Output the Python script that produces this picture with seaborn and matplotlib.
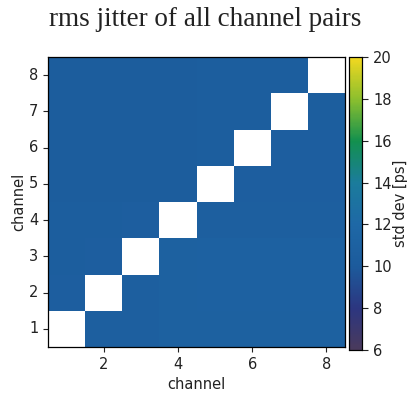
import numpy as np
import pandas as pd
import matplotlib
matplotlib.use("Agg")
import matplotlib.pyplot as plt
from matplotlib.colors import LinearSegmentedColormap
import seaborn as sns

channels = [1, 2, 3, 4, 5, 6, 7, 8]
# rows: channel on y axis (1..8), cols: channel on x axis (1..8); diagonal is empty
row_1 = [np.nan, 10.6, 10.7, 10.9, 10.9, 10.9, 10.9, 10.9]
row_2 = [10.5, np.nan, 10.6, 10.9, 11.0, 11.0, 11.0, 11.0]
row_3 = [10.4, 10.5, np.nan, 10.9, 11.0, 11.0, 11.0, 11.0]
row_4 = [10.4, 10.4, 10.5, np.nan, 10.6, 10.6, 10.6, 10.6]
row_5 = [10.3, 10.3, 10.3, 10.3, np.nan, 10.5, 10.5, 10.5]
row_6 = [10.3, 10.3, 10.3, 10.3, 10.4, np.nan, 10.5, 10.5]
row_7 = [10.3, 10.3, 10.3, 10.3, 10.4, 10.4, np.nan, 10.4]
row_8 = [10.3, 10.3, 10.3, 10.3, 10.4, 10.4, 10.4, np.nan]

jitter = pd.DataFrame([row_1, row_2, row_3, row_4, row_5, row_6, row_7, row_8],
                      index=channels, columns=channels)
jitter = jitter.iloc[::-1]  # channel 1 at the bottom

# viridis-like colours as they appear in the printed figure
cmap = LinearSegmentedColormap.from_list("printed_viridis", [
    "#4a3a5c", "#2c3680", "#1c5b9c", "#1e68a6", "#1b7c9c",
    "#13904e", "#8cbf2e", "#f2d820"])

fig = plt.figure(figsize=(4.11, 3.96), dpi=100)
ax = fig.add_axes([48 / 411, 1 - 347 / 396, 297 / 411, 290 / 396])
cax = fig.add_axes([349 / 411, 1 - 350 / 396, 13 / 411, 293 / 396])

sns.heatmap(jitter, ax=ax, cbar_ax=cax, cmap=cmap, vmin=6, vmax=20,
            cbar_kws={"label": "std dev [ps]"})

ax.set_xticks([1.5, 3.5, 5.5, 7.5])
ax.set_xticklabels(["2", "4", "6", "8"], rotation=0)
ax.set_yticks([i + 0.5 for i in range(8)])
ax.set_yticklabels([str(c) for c in jitter.index], rotation=0)
ax.tick_params(labelsize=10.5, colors="#222222")
ax.set_xlabel("channel", fontsize=10.5, color="#222222")
ax.set_ylabel("channel", fontsize=10.5, color="#222222", labelpad=2)
for s in ax.spines.values():
    s.set_visible(True)
    s.set_linewidth(0.9)

cax.tick_params(labelsize=10.5, colors="#222222", length=4, pad=4)
cax.set_yticks([6, 8, 10, 12, 14, 16, 18, 20])
cax.set_ylabel("std dev [ps]", fontsize=10.5, color="#222222", labelpad=1)
for s in cax.spines.values():
    s.set_visible(True)
    s.set_linewidth(0.8)

fig.text(0.5, 1 - 19 / 396, "rms jitter of all channel pairs", ha="center",
         va="center", fontsize=19.5, family="Liberation Serif", color="#222222")

fig.savefig("out.png", dpi=100)
